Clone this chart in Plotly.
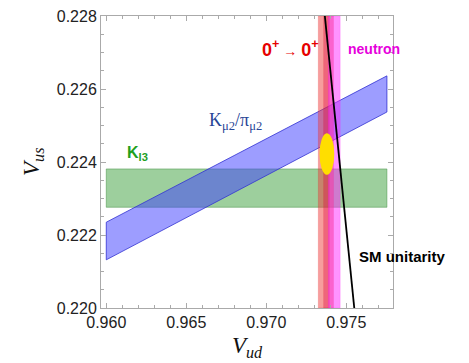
import plotly.graph_objects as go

# Axis ranges / ticks
x_range = [0.95967, 0.97792]
y_range = [0.2200, 0.2280]
x_ticks = [0.960, 0.965, 0.970, 0.975]
y_ticks = [0.220, 0.222, 0.224, 0.226, 0.228]

# K_l3 band (Vus horizontal band)
kl3_x = [0.9600, 0.97754]
kl3_y = [0.22276, 0.22381]

# K_mu2/pi_mu2 band: Vus at left and right ends (lower, upper)
kmu_x = [0.9600, 0.97754]
kmu_lo = [0.22132, 0.22537]
kmu_hi = [0.22235, 0.22636]

# 0+ -> 0+ bands (Vud)
sf_outer = [0.97325, 0.97420]
sf_inner = [0.97358, 0.97395]
# neutron band (Vud)
neutron = [0.97388, 0.97462]

# SM unitarity line endpoints
sm_vud = [0.97366, 0.97550]
sm_vus = [0.2280, 0.2200]

# combined fit ellipse (center and half-axes)
ell_center = [0.97379, 0.22422]
ell_half = [0.00046, 0.00057]

fig = go.Figure()

# Kl3
fig.add_trace(go.Scatter(
    x=[kl3_x[0], kl3_x[1], kl3_x[1], kl3_x[0], kl3_x[0]],
    y=[kl3_y[0], kl3_y[0], kl3_y[1], kl3_y[1], kl3_y[0]],
    fill="toself", fillcolor="rgba(60,160,60,0.5)",
    line=dict(color="rgba(60,140,60,0.6)", width=0.8), mode="lines",
    hoverinfo="skip", showlegend=False))

# Kmu2/pimu2
fig.add_trace(go.Scatter(
    x=[kmu_x[0], kmu_x[1], kmu_x[1], kmu_x[0], kmu_x[0]],
    y=[kmu_lo[0], kmu_lo[1], kmu_hi[1], kmu_hi[0], kmu_lo[0]],
    fill="toself", fillcolor="rgba(60,60,255,0.5)",
    line=dict(color="rgba(50,50,210,0.8)", width=1), mode="lines",
    hoverinfo="skip", showlegend=False))

def vband(xr, color, lc):
    fig.add_trace(go.Scatter(
        x=[xr[0], xr[1], xr[1], xr[0], xr[0]],
        y=[y_range[0], y_range[0], y_range[1], y_range[1], y_range[0]],
        fill="toself", fillcolor=color, line=dict(color=lc, width=0.5),
        mode="lines", hoverinfo="skip", showlegend=False))

vband(sf_outer, "rgba(240,60,60,0.5)", "rgba(220,0,0,0.3)")
vband(sf_inner, "rgba(220,0,60,0.35)", "rgba(220,0,0,0.2)")
vband(neutron, "rgba(255,40,255,0.5)", "rgba(255,0,255,0.3)")

# ellipse
fig.add_shape(type="circle", xref="x", yref="y",
              x0=ell_center[0] - ell_half[0], x1=ell_center[0] + ell_half[0],
              y0=ell_center[1] - ell_half[1], y1=ell_center[1] + ell_half[1],
              fillcolor="rgb(255,222,0)", line=dict(width=0))

# SM unitarity line
fig.add_trace(go.Scatter(x=sm_vud, y=sm_vus, mode="lines",
                         line=dict(color="black", width=1.8),
                         hoverinfo="skip", showlegend=False))

ann = [
    dict(x=0.97154, y=0.22712,
         text="<b>0<sup>+</sup></b><span style='font-size:14px'> → </span><b>0<sup>+</sup></b>",
         font=dict(family="Liberation Sans", size=18, color="rgb(230,0,0)")),
    dict(x=0.97673, y=0.22709, text="<b>neutron</b>",
         font=dict(family="Liberation Sans", size=14, color="rgb(230,0,220)")),
    dict(xref="paper", yref="paper", x=1.0325, y=0.1747, text="<b>SM unitarity</b>",
         font=dict(family="Liberation Sans", size=15, color="black")),
    dict(x=0.96195, y=0.22422, text="<b>K<sub>l3</sub></b>",
         font=dict(family="Liberation Sans", size=16, color="rgb(30,160,30)")),
    dict(x=0.96805, y=0.22510, text="K<sub>μ2</sub>/π<sub>μ2</sub>",
         font=dict(family="Liberation Serif", size=18, color="rgb(40,70,150)")),
    # axis titles
    dict(xref="paper", yref="paper", x=-0.233, y=0.50,
         text="<i>V<sub>us</sub></i>", textangle=-90,
         font=dict(family="Liberation Serif", size=23, color="#111")),
    dict(xref="paper", yref="paper", x=0.503, y=-0.1336,
         text="<i>V<sub>ud</sub></i>",
         font=dict(family="Liberation Serif", size=23, color="#111")),
]
for a in ann:
    a.setdefault("xref", "x")
    a.setdefault("yref", "y")
    fig.add_annotation(showarrow=False, xanchor="center", yanchor="middle", **a)

axis_common = dict(
    showgrid=False, zeroline=False, showline=True, linecolor="#aaaaaa",
    linewidth=1, mirror="ticks", ticks="inside", ticklen=5, tickcolor="#aaaaaa",
    tickfont=dict(family="Liberation Sans", size=16, color="#222222"),
    automargin=False,
)

fig.update_xaxes(range=x_range, tickvals=x_ticks,
                 ticktext=[f"{v:.3f}" for v in x_ticks],
                 minor=dict(ticks="inside", dtick=0.001, ticklen=3, tickcolor="#aaaaaa"),
                 **axis_common)
fig.update_yaxes(range=y_range, tickvals=y_ticks,
                 ticktext=[f"{v:.3f}" for v in y_ticks],
                 minor=dict(ticks="inside", dtick=0.0005, ticklen=3, tickcolor="#aaaaaa"),
                 **axis_common)

fig.update_layout(width=469, height=363,
                  margin=dict(l=101, r=76, t=16, b=55),
                  plot_bgcolor="white", paper_bgcolor="white")

fig.write_html("out.html", config={"displayModeBar": False},
               post_script="document.body.style.margin='0';document.body.style.overflow='hidden';")
